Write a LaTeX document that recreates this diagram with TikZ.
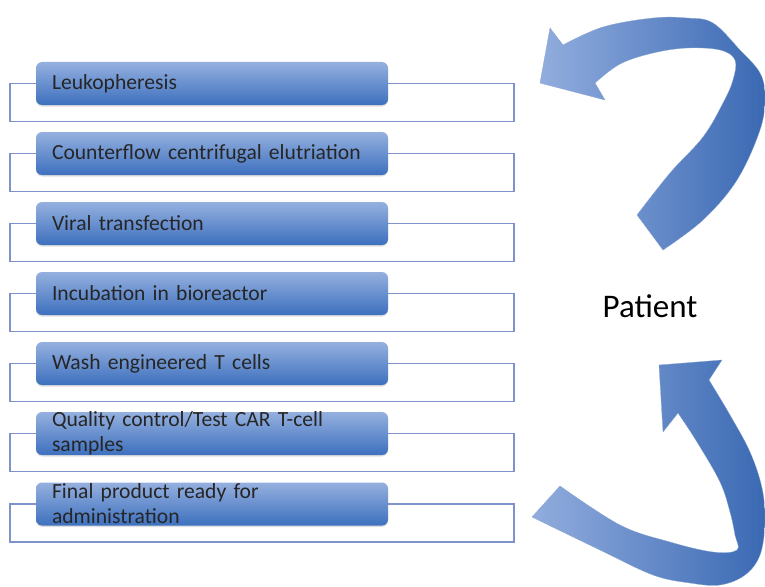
\documentclass[tikz,border=0pt]{standalone}
\usepackage{fontspec}
\setmainfont{Carlito}
\usepackage{tikz}
\usetikzlibrary{shadows, backgrounds}
\definecolor{boxtop}{HTML}{95B0DF}
\definecolor{boxbottom}{HTML}{3D70BE}
\definecolor{frameblue}{HTML}{7F92CC}
\definecolor{arrowlight}{HTML}{92ADDE}
\definecolor{arrowdark}{HTML}{3A69B3}
\definecolor{textgray}{HTML}{262626}
\tikzstyle{stepbox} = [
  rectangle, rounded corners=6pt, draw=none,
  top color=boxtop, bottom color=boxbottom,
  minimum width=352pt, minimum height=43pt, inner sep=0pt,
  drop shadow={opacity=0.25, shadow xshift=0pt, shadow yshift=-1.5pt}
]
\tikzstyle{steptext} = [
  anchor=west, text width=330pt, align=left, inner sep=0pt,
  text=textgray, font=\fontsize{21.6}{25}\selectfont
]
\tikzstyle{bracket} = [draw=frameblue, line width=1.4pt]
\tikzstyle{bigarrow} = [left color=arrowlight, right color=arrowdark, draw=arrowdark!60, line width=0.3pt]

\begin{document}
\begin{tikzpicture}[x=1pt, y=-1pt]
  \useasboundingbox (0,0) rectangle (765,586);

  \node[stepbox] (s1) at (212, 83.5) {};
  \node[stepbox] (s2) at (212,153.5) {};
  \node[stepbox] (s3) at (212,223.5) {};
  \node[stepbox] (s4) at (212,293.5) {};
  \node[stepbox] (s5) at (212,363.5) {};
  \node[stepbox] (s6) at (212,433.5) {};
  \node[stepbox] (s7) at (212,504)   {};

  \node[steptext] (t1) at ([xshift=16pt]s1.west) {Leukopheresis};
  \node[steptext] (t2) at ([xshift=16pt]s2.west) {Counterflow centrifugal elutriation};
  \node[steptext] (t3) at ([xshift=16pt]s3.west) {Viral transfection};
  \node[steptext] (t4) at ([xshift=16pt]s4.west) {Incubation in bioreactor};
  \node[steptext] (t5) at ([xshift=16pt]s5.west) {Wash engineered T cells};
  \node[steptext] (t6) at ([xshift=16pt]s6.west) {Quality control/Test CAR T-cell\\samples};
  \node[steptext] (t7) at ([xshift=16pt]s7.west) {Final product ready for\\administration};

  \node[text=black, font=\fontsize{33}{40}\selectfont] (patient) at (650,306) {Patient};

  % open frames behind every step
  \begin{scope}[on background layer]
    \draw[bracket] (s1.west) -- ++(-26,0) -- ++(0,38) -- ++(504,0) -- ++(0,-38) -- (s1.east);
    \draw[bracket] (s2.west) -- ++(-26,0) -- ++(0,38) -- ++(504,0) -- ++(0,-38) -- (s2.east);
    \draw[bracket] (s3.west) -- ++(-26,0) -- ++(0,38) -- ++(504,0) -- ++(0,-38) -- (s3.east);
    \draw[bracket] (s4.west) -- ++(-26,0) -- ++(0,38) -- ++(504,0) -- ++(0,-38) -- (s4.east);
    \draw[bracket] (s5.west) -- ++(-26,0) -- ++(0,38) -- ++(504,0) -- ++(0,-38) -- (s5.east);
    \draw[bracket] (s6.west) -- ++(-26,0) -- ++(0,38) -- ++(504,0) -- ++(0,-38) -- (s6.east);
    \draw[bracket] (s7.west) -- ++(-26,0) -- ++(0,38) -- ++(504,0) -- ++(0,-38) -- (s7.east);
  \end{scope}

  % curved arrow back to the first step
  \path[bigarrow]
    plot[smooth, tension=0.6] coordinates {(663,250) (703,220) (737,180) (760,130) (765,97) (760,73) (740,50) (713,23) (687,18) (653,18) (603,27) (563,45)}
    -- (550,28) -- (540,83) -- (605,100) -- (595,83)
    -- plot[smooth, tension=0.6] coordinates {(595,83) (620,64) (653,53) (687,48) (720,50) (735,60) (733,80) (723,103) (703,137) (670,173) (637,215)}
    -- cycle;

  % curved arrow from the final product up to the patient
  \path[bigarrow]
    plot[smooth, tension=0.6] coordinates {(560,486) (620,525) (670,542) (713,552) (737,550) (735,535) (730,512) (720,482) (697,442) (678,413)}
    -- (663,432) -- (659,365) -- (722,360) -- (709,380)
    -- plot[smooth, tension=0.6] coordinates {(709,380) (730,415) (750,452) (762,488) (765,522) (760,555) (745,575) (720,585) (690,583) (653,575) (600,550) (532,517)}
    -- cycle;

\end{tikzpicture}
\end{document}
